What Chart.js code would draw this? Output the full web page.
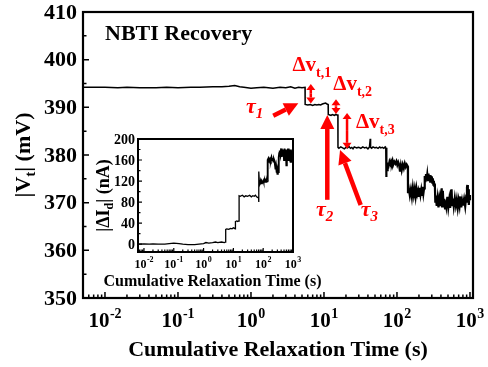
<!DOCTYPE html>
<html>
<head>
<meta charset="utf-8">
<script src="https://cdn.jsdelivr.net/npm/chart.js@4/dist/chart.umd.min.js"></script>
<style>
  body { margin: 0; background: #fff; }
  #wrap { position: relative; width: 488px; height: 367px; }
  canvas { position: absolute; }
</style>
</head>
<body>
<div id="wrap">
  <canvas id="mainChart" width="488" height="367" style="left:0;top:0"></canvas>
  <canvas id="insetChart" width="240" height="160" style="left:90px;top:130px"></canvas>
</div>
<script>
// |Vt| trace during recovery (time in s, value in mV)
const vtTime = [
  0.005, 0.007, 0.01, 0.015, 0.02, 0.03, 0.05, 0.07, 0.1, 0.15, 0.2, 0.3, 0.4, 0.5, 0.6, 0.7, 0.8, 1, 1.2, 1.5, 2, 2.5, 3, 3.5, 4, 4.5, 5, 5.5,
  5.52, 6, 6.5, 7, 7.5, 8, 8.5, 9, 9.5, 10, 10.5, 11, 11.4,
  11.45, 12, 12.5, 13, 13.5, 14, 14.5, 15, 15.5,
  15.55, 16, 17, 18, 19, 20, 21, 22, 23, 24, 25, 26, 28, 30, 32, 34, 36, 38, 40, 42, 43, 43.5, 45, 47, 50, 52, 55, 58, 60, 63, 66, 69, 71,
  71.2, 72, 73, 74, 75, 77, 79, 81, 83, 85, 87, 89, 92, 95, 98, 101, 104, 107, 110, 113, 116, 120, 124, 128, 132, 136, 141,
  141.5, 145, 150, 155, 160, 165, 170, 175, 180, 185, 190, 195, 200, 205, 210, 215, 220, 225, 230, 235,
  240, 245, 250, 255, 260, 265, 270, 275, 280, 285, 290, 295, 300, 305, 310, 315, 320, 325, 330,
  335, 340, 350, 360, 370, 380, 390, 400, 410, 415, 425, 435, 445, 455, 465, 475, 490, 505, 520, 535, 550, 560, 570, 585, 600,
  620, 640, 660, 680, 700, 720, 740, 760, 780, 800, 830, 860, 890, 910, 920, 935, 950, 965, 980, 1000
];
const vtValue = [
  394.2, 394.2, 394.2, 394.1, 394.2, 394.1, 394.1, 394.2, 394.1, 394.2, 394.2, 394.3, 394.3, 394.4, 394.6, 394.3, 394.2, 394.0, 394.1, 394.2, 394.0, 394.2, 394.1, 394.3, 394.0, 394.2, 394.1, 394.2,
  390.6, 390.5, 390.6, 390.4, 390.6, 390.5, 390.6, 390.5, 390.7, 390.8, 390.9, 390.7, 390.6,
  388.5, 388.4, 388.3, 388.5, 388.4, 388.3, 388.5, 388.4, 388.4,
  381.6, 381.4, 381.7, 381.5, 381.3, 381.6, 381.5, 381.8, 381.4, 381.6, 381.3, 381.7, 381.5, 381.6, 381.4, 381.7, 381.5, 381.6, 381.3, 381.7, 383.4, 381.6, 381.4, 381.7, 381.5, 381.6, 381.4, 381.7, 381.5, 381.6, 381.4, 381.7, 381.5,
  375.4, 377.0, 378.4, 376.6, 378.3, 377.8, 378.6, 378.1, 378.7, 378.2, 378.8, 378.0, 378.6, 378.2, 378.7, 377.9, 378.5, 378.0, 376.5, 377.8, 376.8, 378.0, 377.2, 378.2, 377.5, 378.0, 377.6,
  372.0, 373.0, 371.5, 372.8, 371.2, 373.2, 371.6, 372.9, 371.3, 373.0, 371.8, 372.5, 371.2, 373.1, 371.7, 372.7, 371.4, 373.3, 371.9, 373.0,
  375.6, 374.3, 376.0, 374.8, 375.9, 374.5, 376.1, 375.0, 375.8, 374.4, 375.7, 374.7, 375.5, 374.2, 375.1, 373.8, 374.6, 373.5, 374.0,
  370.2, 371.5, 369.3, 371.0, 369.0, 370.8, 369.5, 372.0, 373.0, 369.2, 372.5, 369.0, 370.8, 368.8, 370.5, 369.3, 371.2, 369.0, 370.6, 368.9, 372.5, 372.8, 369.5, 370.9, 369.2,
  371.0, 369.4, 370.7, 368.9, 370.5, 369.3, 371.3, 369.0, 370.4, 369.4, 370.8, 369.2, 371.5, 373.2, 373.7, 370.0, 372.8, 369.5, 371.6, 370.5
];

// |dId| trace for the inset (time in s, value in nA)
const idTime = [
  0.0063, 0.01, 0.015, 0.02, 0.03, 0.05, 0.07, 0.1, 0.15, 0.2, 0.3, 0.5, 0.7, 1, 1.2, 1.5, 2, 2.5, 3, 4, 5, 5.5,
  5.52, 6, 7, 8, 9, 10, 11, 11.4,
  11.45, 12, 13, 14, 15, 15.5,
  15.55, 17, 20, 23, 26, 30, 35, 40, 45, 50, 55, 60, 65, 70, 71,
  71.2, 74, 78, 82, 86, 90, 95, 100, 105, 110, 115, 120, 125, 130, 136, 141,
  141.5, 150, 160, 170, 180, 190, 200, 210, 220, 230, 240,
  250, 260, 270, 280, 290, 300, 310, 320, 330,
  335, 345, 360, 380, 400, 420, 440, 460, 480, 500, 520, 550, 580, 600, 620, 650, 680, 700, 730, 760, 800, 850, 900, 950, 1000
];
const idValue = [
  0, 0.5, 0, 0.5, 0, 0, 1, 2, 1, 0, -1, -1, 0, 1, 3, 2, 3, 4, 3, 4, 3, 4,
  28, 29, 28, 30, 29, 31, 30, 29,
  44, 43, 44, 43, 44, 44,
  92, 91, 93, 90, 92, 91, 93, 90, 92, 91, 93, 90, 89, 88, 80,
  138, 120, 117, 122, 115, 120, 117, 121, 116, 124, 118, 125, 118, 123, 119, 121,
  160, 163, 158, 162, 159, 165, 160, 164, 157, 161, 158,
  150, 142, 148, 136, 145, 134, 140, 137, 150,
  165, 173, 178, 170, 182, 166, 180, 170, 178, 160, 182, 165, 180, 150, 178, 160, 182, 158, 178, 168, 180, 155, 178, 165, 170
];

// axis ticks
const decadeTicks = [0.01, 0.1, 1, 10, 100, 1000];
const decadeExp = ['-2', '-1', '0', '1', '2', '3'];
const mainYTicks = [350, 360, 370, 380, 390, 400, 410];
const insetYTicks = [0, 40, 80, 120, 160, 200];

const SERIF = '"Liberation Serif", "Times New Roman", serif';
const RED = '#ff0000';

function f(size, style) {
  return (style || 'bold') + ' ' + size + 'px ' + SERIF;
}

// text made of pieces with their own font and vertical shift (sub/superscripts)
function richWidth(ctx, parts) {
  let w = 0;
  parts.forEach(p => { ctx.font = p.font; w += ctx.measureText(p.text).width + (p.dx || 0); });
  return w;
}
function drawRich(ctx, parts, x, y, align) {
  const w = richWidth(ctx, parts);
  let cx = align === 'center' ? x - w / 2 : align === 'right' ? x - w : x;
  ctx.textAlign = 'left';
  parts.forEach(p => {
    ctx.font = p.font;
    cx += p.dx || 0;
    ctx.fillText(p.text, cx, y + (p.dy || 0));
    cx += ctx.measureText(p.text).width;
  });
}

function arrow(ctx, x0, y0, x1, y1, w, hl, hw) {
  const ang = Math.atan2(y1 - y0, x1 - x0);
  const bx = x1 - hl * Math.cos(ang), by = y1 - hl * Math.sin(ang);
  ctx.lineWidth = w;
  ctx.beginPath(); ctx.moveTo(x0, y0); ctx.lineTo(bx, by); ctx.stroke();
  ctx.beginPath();
  ctx.moveTo(x1, y1);
  ctx.lineTo(bx + hw / 2 * Math.sin(ang), by - hw / 2 * Math.cos(ang));
  ctx.lineTo(bx - hw / 2 * Math.sin(ang), by + hw / 2 * Math.cos(ang));
  ctx.closePath(); ctx.fill();
}
function doubleArrow(ctx, x, y0, y1, w, hl, hw) {
  const m = (y0 + y1) / 2;
  arrow(ctx, x, m, x, y0, w, hl, hw);
  arrow(ctx, x, m, x, y1, w, hl, hw);
}

// frame, inward ticks, tick labels and axis titles
function axesPlugin(o) {
  return {
    id: o.id,
    afterDraw(chart) {
      const ctx = chart.ctx, a = chart.chartArea;
      const xs = chart.scales.x, ys = chart.scales.y;
      ctx.save();
      ctx.strokeStyle = '#000';
      ctx.fillStyle = '#000';
      ctx.lineWidth = o.frameWidth;
      ctx.strokeRect(a.left, a.top, a.right - a.left, a.bottom - a.top);

      ctx.lineWidth = o.tickWidth;
      ctx.beginPath();
      for (let e = -3; e <= 3; e++) {
        for (let m = 1; m <= 9; m++) {
          const t = m * Math.pow(10, e);
          if (t < xs.min || t > xs.max) continue;
          const x = xs.getPixelForValue(t);
          ctx.moveTo(x, a.bottom);
          ctx.lineTo(x, a.bottom - (m === 1 ? o.major : o.minor));
        }
      }
      for (let v = Math.ceil(ys.min / o.yMinor) * o.yMinor; v <= ys.max; v += o.yMinor) {
        const y = ys.getPixelForValue(v);
        const isMajor = Math.abs(v / o.yMajor - Math.round(v / o.yMajor)) < 1e-6;
        ctx.moveTo(a.left, y);
        ctx.lineTo(a.left + (isMajor ? o.major : o.minor), y);
      }
      ctx.stroke();

      // y tick labels
      ctx.textBaseline = 'middle';
      ctx.textAlign = 'right';
      ctx.font = o.yTickFont;
      o.yTicks.forEach(v => ctx.fillText(String(v), a.left - o.yTickGap, ys.getPixelForValue(v) + o.yTickShift));

      // x tick labels, 10 with raised exponent
      ctx.textBaseline = 'alphabetic';
      decadeTicks.forEach((t, i) => {
        drawRich(ctx, [
          { text: '10', font: o.xTickFont },
          { text: decadeExp[i], font: o.xExpFont, dy: -o.expRaise, dx: 0.5 }
        ], xs.getPixelForValue(t), a.bottom + o.xTickBase, 'center');
      });

      // x title
      ctx.font = o.xTitleFont;
      ctx.textAlign = 'center';
      ctx.fillText(o.xTitle, (a.left + a.right) / 2 + o.xTitleShift, a.bottom + o.xTitleBase);

      // y title, rotated
      ctx.save();
      ctx.translate(o.yTitleX, (a.top + a.bottom) / 2 + o.yTitleShift);
      ctx.rotate(-Math.PI / 2);
      drawRich(ctx, o.yTitle, 0, 0, 'center');
      ctx.restore();

      if (o.extra) o.extra(chart, ctx);
      ctx.restore();
    }
  };
}

function pairs(ts, vs) {
  return ts.map((t, i) => ({ x: t, y: vs[i] }));
}

// the noisy late part of each trace is drawn heavier
function heavyAfter(tStart, thin, thick) {
  return c => (c.p0.parsed.x >= tStart ? thick : thin);
}

// labels and arrows marking the recovery steps
function recoveryNotes(chart, ctx) {
  const xs = chart.scales.x, ys = chart.scales.y, a = chart.chartArea;
  const X = t => xs.getPixelForValue(t), Y = v => ys.getPixelForValue(v);

  ctx.fillStyle = '#000';
  ctx.textAlign = 'left';
  ctx.textBaseline = 'alphabetic';
  ctx.font = f(22);
  ctx.fillText('NBTI Recovery', a.left + 22, a.top + 28);

  ctx.fillStyle = RED;
  ctx.strokeStyle = RED;
  const dv = (t, v, n) => drawRich(ctx, [
    { text: '\u0394v', font: f(21) },
    { text: 't,' + n, font: f(14), dy: 6 }
  ], X(t), Y(v), 'left');
  dv(3.7, 397.7, 1);
  dv(13.4, 393.6, 2);
  dv(27.4, 385.6, 3);

  doubleArrow(ctx, X(6.6), Y(394.9), Y(390.8), 2.5, 6, 9);
  doubleArrow(ctx, X(14.6), Y(391.7), Y(388.6), 2.5, 6, 9);
  doubleArrow(ctx, X(20.7), Y(388.8), Y(381.3), 2.5, 6, 9);

  const tau = (t, v, n) => drawRich(ctx, [
    { text: '\u03c4', font: f(22, 'italic bold') },
    { text: String(n), font: f(15, 'italic bold'), dy: 5 }
  ], X(t), Y(v), 'left');
  tau(0.855, 388.75, 1);
  tau(7.76, 367.2, 2);
  tau(31.8, 367.2, 3);

  arrow(ctx, X(2.02), Y(388.25), X(4.45), Y(390.85), 4.5, 14, 14);
  arrow(ctx, X(11.1), Y(370.6), X(11.1), Y(388.4), 4.5, 14, 14);
  arrow(ctx, X(31.8), Y(369.5), X(16.6), Y(381.05), 4.5, 14, 14);
}

new Chart(document.getElementById('mainChart'), {
  type: 'line',
  data: {
    datasets: [{
      data: pairs(vtTime, vtValue),
      borderColor: '#000',
      borderWidth: 1.5,
      pointRadius: 0,
      tension: 0,
      segment: { borderWidth: heavyAfter(71, 1.5, 2.2) }
    }]
  },
  options: {
    responsive: false,
    animation: false,
    layout: { padding: { left: 83, right: 15, top: 12, bottom: 69 } },
    plugins: { legend: { display: false }, tooltip: { enabled: false } },
    scales: {
      x: { type: 'logarithmic', min: 0.005, max: 1100, display: false },
      y: { type: 'linear', min: 350, max: 410, display: false }
    }
  },
  plugins: [axesPlugin({
    id: 'mainAxes',
    frameWidth: 2.2, tickWidth: 1.5, major: 6, minor: 3.5,
    yMinor: 5, yMajor: 10, yTicks: mainYTicks,
    yTickFont: f(22), yTickGap: 6, yTickShift: 1,
    xTickFont: f(21), xExpFont: f(14), expRaise: 9, xTickBase: 29,
    xTitle: 'Cumulative Relaxation Time (s)', xTitleFont: f(22), xTitleShift: 0, xTitleBase: 58,
    yTitleX: 30, yTitleShift: 0,
    yTitle: [
      { text: '|V', font: f(22) },
      { text: 't', font: f(15), dy: 5 },
      { text: '| (mV)', font: f(22) }
    ],
    extra: recoveryNotes
  })]
});

new Chart(document.getElementById('insetChart'), {
  type: 'line',
  data: {
    datasets: [{
      data: pairs(idTime, idValue),
      borderColor: '#000',
      borderWidth: 1.3,
      pointRadius: 0,
      tension: 0,
      segment: { borderWidth: heavyAfter(141, 1.3, 1.9) }
    }]
  },
  options: {
    responsive: false,
    animation: false,
    layout: { padding: { left: 48, right: 37, top: 9, bottom: 38 } },
    plugins: { legend: { display: false }, tooltip: { enabled: false } },
    scales: {
      x: { type: 'logarithmic', min: 0.0063, max: 1000, display: false },
      y: { type: 'linear', min: -15, max: 200, display: false }
    }
  },
  plugins: [axesPlugin({
    id: 'insetAxes',
    frameWidth: 2, tickWidth: 1.2, major: 4, minor: 2.5,
    yMinor: 20, yMajor: 40, yTicks: insetYTicks,
    yTickFont: f(14), yTickGap: 3, yTickShift: 1,
    xTickFont: f(12), xExpFont: f(8), expRaise: 6, xTickBase: 16,
    xTitle: 'Cumulative Relaxation Time (s)', xTitleFont: f(16), xTitleShift: -3, xTitleBase: 34,
    yTitleX: 19, yTitleShift: 0,
    yTitle: [
      { text: '|\u0394I', font: f(18) },
      { text: 'd', font: f(12), dy: 4 },
      { text: '| (nA)', font: f(18) }
    ]
  })]
});
</script>
</body>
</html>
